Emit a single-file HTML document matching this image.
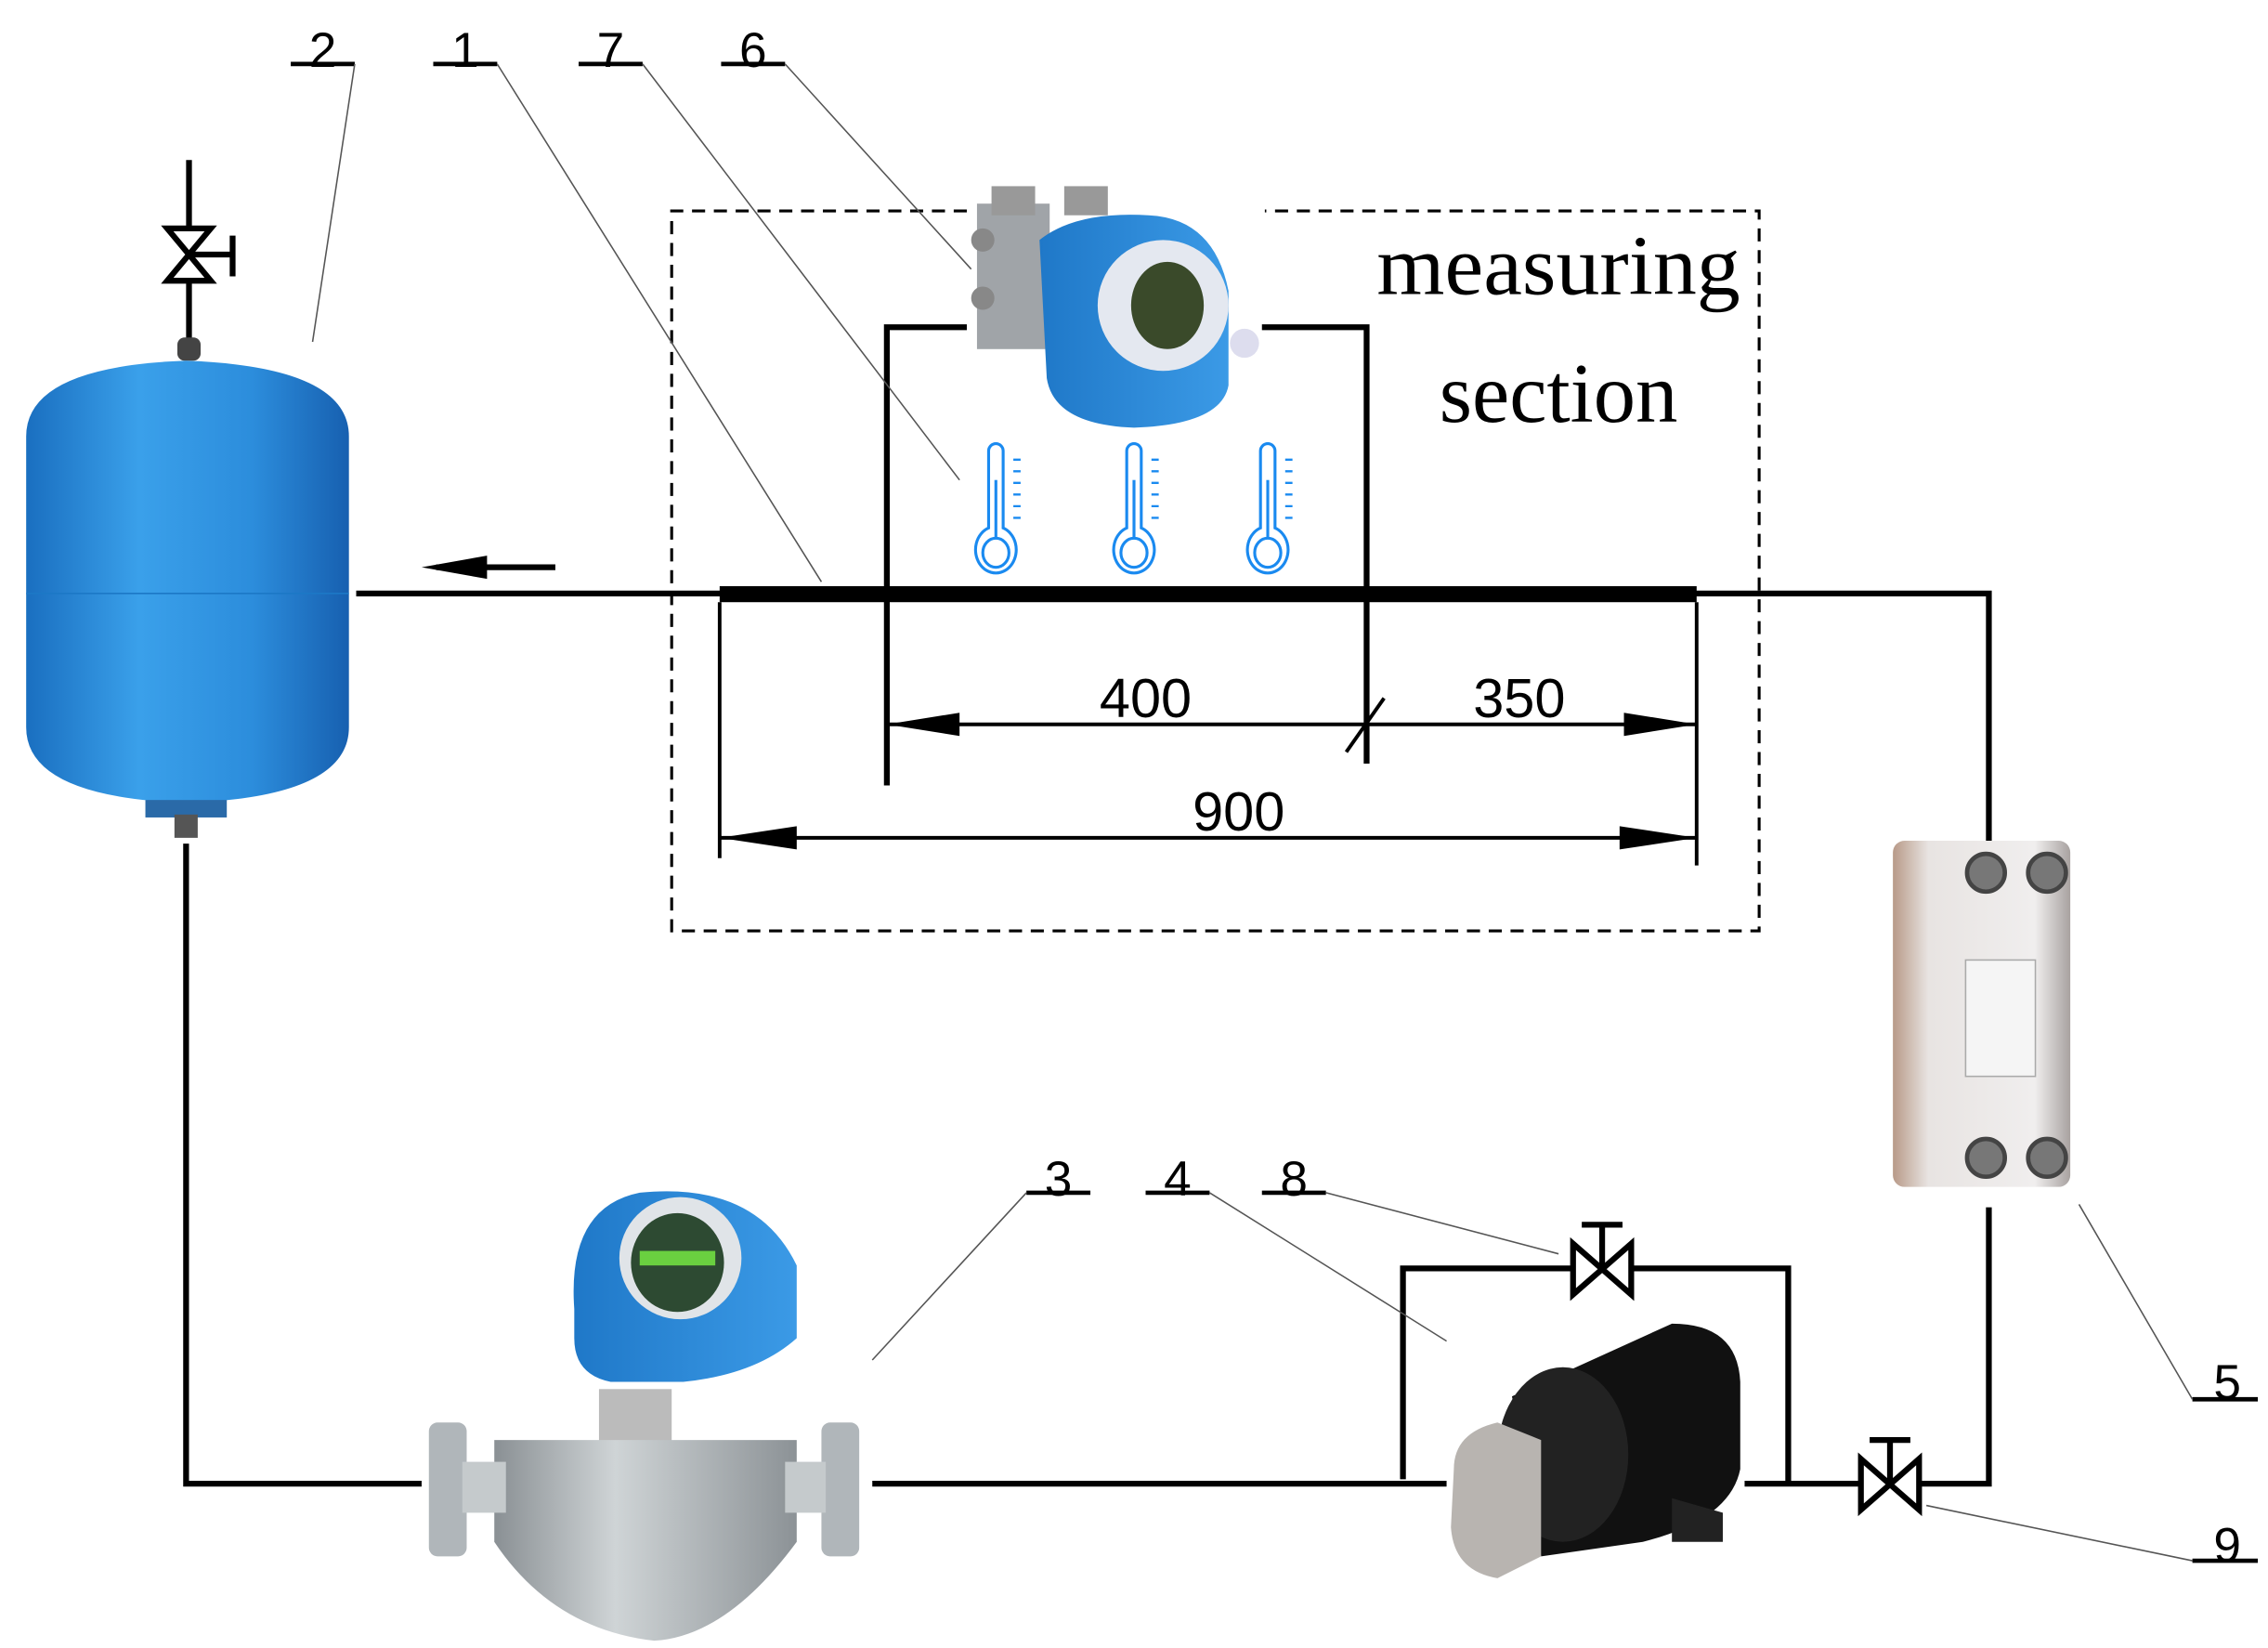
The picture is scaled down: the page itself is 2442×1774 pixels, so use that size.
<!DOCTYPE html>
<html><head><meta charset="utf-8"><style>html,body{margin:0;padding:0;background:#fff}svg{display:block}</style></head>
<body>
<svg width="2442" height="1774" viewBox="0 0 1560 1133" preserveAspectRatio="none" xmlns="http://www.w3.org/2000/svg">
<defs>
<linearGradient id="tank" x1="0" x2="1"><stop offset="0" stop-color="#1a6fc0"/><stop offset="0.35" stop-color="#3aa0ea"/><stop offset="0.7" stop-color="#2c8ddc"/><stop offset="1" stop-color="#1760b0"/></linearGradient>
<linearGradient id="steel" x1="0" x2="1"><stop offset="0" stop-color="#8a9094"/><stop offset="0.4" stop-color="#cfd4d6"/><stop offset="1" stop-color="#8c9296"/></linearGradient>
<linearGradient id="hx" x1="0" x2="1"><stop offset="0" stop-color="#b89a88"/><stop offset="0.2" stop-color="#e8e4e2"/><stop offset="0.8" stop-color="#f0eeee"/><stop offset="1" stop-color="#a8a2a0"/></linearGradient>
<linearGradient id="blue" x1="0" x2="1"><stop offset="0" stop-color="#1f78c8"/><stop offset="1" stop-color="#3b9ae6"/></linearGradient>
</defs>
<g fill="none" stroke="#000" stroke-width="4">
<path d="M245 408H1368V580"/>
<path d="M1368 830V1020H1200"/>
<path d="M600 1020H995"/>
<path d="M128 580V1020H290"/>
<path d="M965 1017V872H1230V1020"/>
<path d="M130 110V235"/>
<path d="M610 540V225H665M868 225H940V525"/>
</g>
<rect x="495" y="403" width="672" height="11" fill="#000"/>
<path d="M665 145H462V640H1210V145H870" fill="none" stroke="#000" stroke-width="2" stroke-dasharray="9,6"/>
<path d="M300 390H382" stroke="#000" stroke-width="4"/>
<path d="M290 390L335 382V398Z" fill="#000"/>
<g stroke="#000" stroke-width="2.5" fill="none">
<path d="M495 414V590M1167 414V595M610 498H1167M495 576H1167M926 517L952 480"/>
</g>
<g fill="#000">
<path d="M610 498L660 490V506Z"/><path d="M1167 498L1117 490V506Z"/>
<path d="M495 576L548 568V584Z"/><path d="M1167 576L1114 568V584Z"/>
</g>
<g font-family="Liberation Sans, sans-serif" font-size="38" text-anchor="middle" fill="#000">
<text x="788" y="493">400</text><text x="1045" y="493">350</text><text x="852" y="571">900</text>
</g>
<g font-family="Liberation Serif, serif" font-size="58" text-anchor="middle" fill="#000">
<text x="1072" y="202" textLength="250" lengthAdjust="spacingAndGlyphs">measuring</text><text x="1072" y="290" textLength="164" lengthAdjust="spacingAndGlyphs">section</text>
</g>
<g font-family="Liberation Sans, sans-serif" font-size="34" text-anchor="middle" fill="#000">
<text x="222" y="46">2</text><text x="320" y="46">1</text><text x="420" y="46">7</text><text x="518" y="46">6</text>
<text x="728" y="822">3</text><text x="810" y="822">4</text><text x="890" y="822">8</text>
<text x="1532" y="962">5</text><text x="1532" y="1074">9</text>
</g>
<g stroke="#000" stroke-width="3">
<path d="M200 44H244M298 44H342M398 44H442M496 44H540M706 820H750M788 820H832M868 820H912M1508 962H1553M1508 1073H1553"/>
</g>
<g stroke="#555" stroke-width="1" fill="none">
<path d="M244 44L215 235M342 44L565 400M442 44L660 330M540 44L668 185M706 820L600 935M832 820L995 922M912 820L1072 862M1508 962L1430 828M1508 1073L1325 1035"/>
</g>
<g stroke="#000" stroke-width="4" fill="#fff">
<path d="M115 157L145 193H115L145 157Z"/><path d="M132 175H160M160 162V190"/>
<path d="M1082 855L1122 890V855L1082 890Z"/><path d="M1102 872V842M1088 842H1116"/>
<path d="M1280 1003L1320 1038V1003L1280 1038Z"/><path d="M1300 1020V990M1286 990H1314"/>
</g>
<rect x="122" y="232" width="16" height="16" rx="5" fill="#444"/>
<path d="M18 300Q18 252 128 248Q240 252 240 300V500Q240 548 128 552Q18 548 18 500Z" fill="url(#tank)"/>
<path d="M18 408H240" stroke="#1c78c6" stroke-width="1"/>
<rect x="100" y="550" width="56" height="12" fill="#2a6aa8"/>
<rect x="120" y="560" width="16" height="16" fill="#555"/>
<rect x="672" y="140" width="50" height="100" fill="#a0a4a8"/>
<rect x="682" y="128" width="30" height="20" fill="#999"/><rect x="732" y="128" width="30" height="20" fill="#999"/>
<circle cx="676" cy="165" r="8" fill="#888"/><circle cx="676" cy="205" r="8" fill="#888"/>
<path d="M715 165Q740 145 790 148Q835 150 845 200V265Q840 292 780 294Q725 292 720 260Z" fill="url(#blue)"/>
<circle cx="800" cy="210" r="45" fill="#e4e8f0"/>
<ellipse cx="803" cy="210" rx="25" ry="30" fill="#3a4a2a"/>
<circle cx="856" cy="236" r="10" fill="#dde"/>
<g fill="none" stroke="#1a8af0" stroke-width="2">
<g id="th"><path d="M680 310a5 5 0 0 1 10 0V363a14 16 0 1 1 -10 0Z"/><ellipse cx="685" cy="380" rx="9" ry="10"/><path d="M685 330V370"/><path d="M697 316h5M697 324h5M697 332h5M697 340h5M697 348h5M697 356h5" stroke-width="1.5"/></g>
<use href="#th" x="95"/><use href="#th" x="187"/>
</g>
<rect x="1302" y="578" width="122" height="238" rx="8" fill="url(#hx)"/>
<g fill="#777" stroke="#444" stroke-width="3"><circle cx="1366" cy="600" r="13"/><circle cx="1408" cy="600" r="13"/><circle cx="1366" cy="796" r="13"/><circle cx="1408" cy="796" r="13"/></g>
<rect x="1352" y="660" width="48" height="80" fill="#f5f5f5" stroke="#aaa"/>
<rect x="412" y="955" width="50" height="40" fill="#bbb"/>
<path d="M395 900Q390 830 440 820Q520 812 548 870V920Q520 945 470 950H420Q395 945 395 920Z" fill="url(#blue)"/>
<circle cx="468" cy="865" r="42" fill="#e0e4e8"/><ellipse cx="466" cy="868" rx="32" ry="34" fill="#2d4a32"/>
<rect x="440" y="860" width="52" height="10" fill="#6ad040"/>
<path d="M340 990H548V1060Q500 1125 450 1128Q380 1120 340 1060Z" fill="url(#steel)"/>
<rect x="295" y="978" width="26" height="92" rx="6" fill="#b0b6ba"/><rect x="565" y="978" width="26" height="92" rx="6" fill="#b0b6ba"/>
<rect x="318" y="1005" width="30" height="35" fill="#c5cacc"/><rect x="540" y="1005" width="28" height="35" fill="#c5cacc"/>
<path d="M1040 960L1150 910Q1195 910 1197 950V1010Q1190 1045 1130 1060L1060 1070Z" fill="#111"/>
<ellipse cx="1075" cy="1000" rx="45" ry="60" fill="#222"/>
<path d="M1000 1010Q1000 985 1030 978L1060 990V1070L1030 1085Q1000 1080 998 1050Z" fill="#b8b4b0"/>
<path d="M1150 1030L1185 1040V1060L1150 1060Z" fill="#222"/>
</svg>
</body></html>
